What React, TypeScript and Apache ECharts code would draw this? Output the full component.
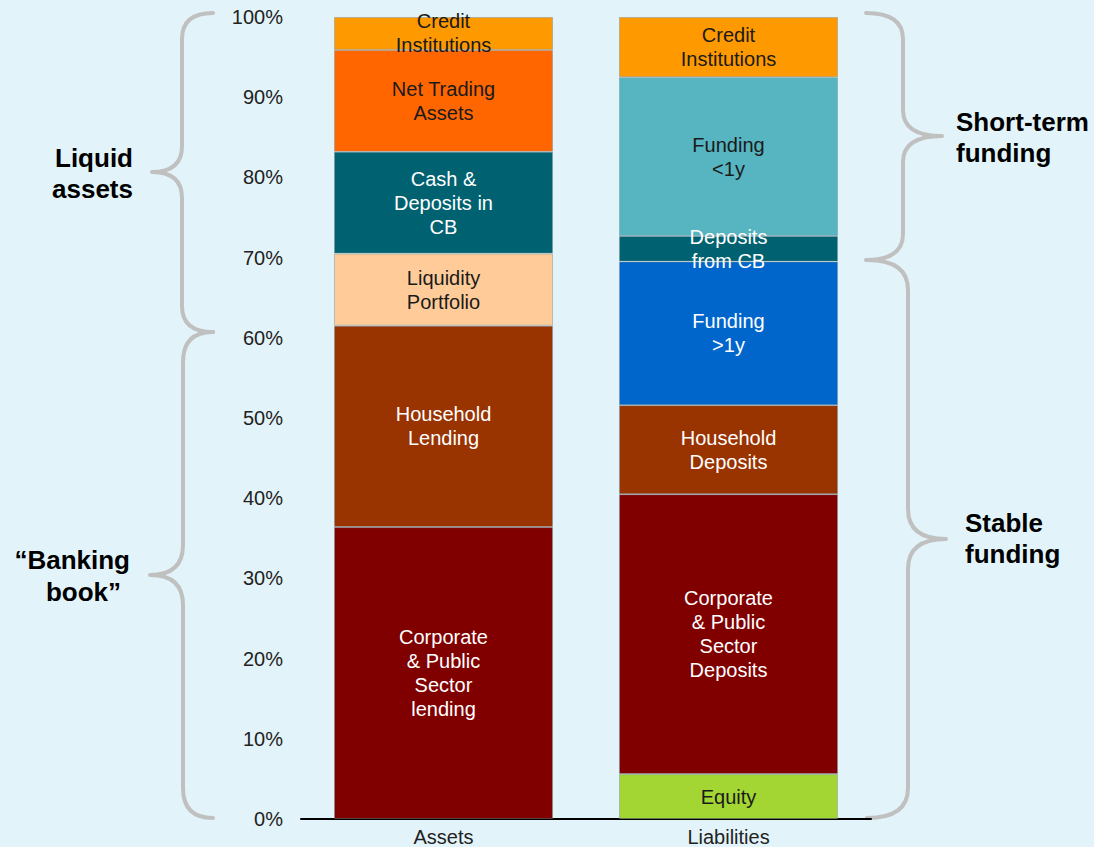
import React, { useEffect, useRef } from "react";
import * as echarts from "echarts";

const categories = ["Assets", "Liabilities"];
const yTicks = [0, 10, 20, 30, 40, 50, 60, 70, 80, 90, 100];

// Assets, bottom to top
const assetNames = [
  "Corporate\n& Public\nSector\nlending",
  "Household\nLending",
  "Liquidity\nPortfolio",
  "Cash &\nDeposits in\nCB",
  "Net Trading\nAssets",
  "Credit\nInstitutions",
];
const assetValues = [36.4, 25.1, 9.0, 12.7, 12.7, 4.1];
const assetColors = ["#800000", "#993300", "#FFCC99", "#006270", "#FF6600", "#FF9900"];
const assetTextColors = ["#ffffff", "#ffffff", "#1a1a1a", "#ffffff", "#1a1a1a", "#1a1a1a"];

// Liabilities, bottom to top
const liabilityNames = [
  "Equity",
  "Corporate\n& Public\nSector\nDeposits",
  "Household\nDeposits",
  "Funding\n>1y",
  "Deposits\nfrom CB",
  "Funding\n<1y",
  "Credit\nInstitutions",
];
const liabilityValues = [5.6, 34.9, 11.1, 17.9, 3.2, 19.8, 7.5];
const liabilityColors = ["#A4D633", "#800000", "#993300", "#0066CC", "#006270", "#57B5C2", "#FF9900"];
const liabilityTextColors = ["#1a1a1a", "#ffffff", "#ffffff", "#ffffff", "#ffffff", "#1a1a1a", "#1a1a1a"];

function bracePath(x0: number, xv: number, xt: number, y0: number, ym: number, y1: number, r: number) {
  return (
    `M${x0} ${y0} Q${xv} ${y0} ${xv} ${y0 + r} L${xv} ${ym - r} Q${xv} ${ym} ${xt} ${ym} ` +
    `M${xt} ${ym} Q${xv} ${ym} ${xv} ${ym + r} L${xv} ${y1 - r} Q${xv} ${y1} ${x0} ${y1}`
  );
}

let registered = false;
function registerBraces() {
  if (registered) return;
  registered = true;
  echarts.graphic.registerShape("braceLU", echarts.graphic.extendPath(bracePath(213, 182, 152, 13, 172, 332, 26), {}) as any);
  echarts.graphic.registerShape("braceLL", echarts.graphic.extendPath(bracePath(213, 183, 150, 332, 575, 818, 30), {}) as any);
  echarts.graphic.registerShape("braceRU", echarts.graphic.extendPath(bracePath(866, 903, 942, 13, 136, 260, 26), {}) as any);
  echarts.graphic.registerShape("braceRL", echarts.graphic.extendPath(bracePath(867, 908, 946, 260, 539, 818, 30), {}) as any);
}

export default function App() {
  const ref = useRef<HTMLDivElement>(null);
  useEffect(() => {
    document.body.style.margin = "0";
    registerBraces();
    const chart = echarts.init(ref.current!, null, { renderer: "svg" });
    const labelFont = { fontFamily: "Liberation Sans, Arial, sans-serif", fontSize: 20, lineHeight: 24 };
    const series: any[] = [];
    assetNames.forEach((n, i) => {
      series.push({
        name: n,
        type: "bar",
        stack: "total",
        barWidth: 219,
        data: [assetValues[i], null],
        itemStyle: { color: assetColors[i], borderColor: "rgba(120,140,150,0.45)", borderWidth: 1 },
        label: { show: true, position: "inside", formatter: n, color: assetTextColors[i], ...labelFont },
      });
    });
    liabilityNames.forEach((n, i) => {
      series.push({
        name: n,
        type: "bar",
        stack: "total",
        barWidth: 219,
        data: [null, liabilityValues[i]],
        itemStyle: { color: liabilityColors[i], borderColor: "rgba(120,140,150,0.45)", borderWidth: 1 },
        label: { show: true, position: "inside", formatter: n, color: liabilityTextColors[i], ...labelFont },
      });
    });
    const braceStyle = { stroke: "#C0C0C0", lineWidth: 4, fill: null, lineCap: "round" };
    const bold = "bold 26px 'Liberation Sans', Arial, sans-serif";
    chart.setOption({
      animation: false,
      backgroundColor: "#E2F4F9",
      grid: { left: 301, right: 223, top: 17, bottom: 27, containLabel: false },
      xAxis: {
        type: "category",
        data: categories,
        axisLine: { show: true, lineStyle: { color: "#000", width: 2 } },
        axisTick: { show: false },
        axisLabel: { color: "#222", fontSize: 20, fontFamily: "Liberation Sans, Arial, sans-serif", margin: 8 },
      },
      yAxis: {
        type: "value",
        min: yTicks[0],
        max: yTicks[yTicks.length - 1],
        interval: 10,
        axisLine: { show: false },
        axisTick: { show: false },
        splitLine: { show: false },
        axisLabel: {
          formatter: "{value}%",
          color: "#222",
          fontSize: 20,
          fontFamily: "Liberation Sans, Arial, sans-serif",
          margin: 18,
        },
      },
      series,
      graphic: [
        { type: "braceLU", style: braceStyle, silent: true },
        { type: "braceLL", style: braceStyle, silent: true },
        { type: "braceRU", style: braceStyle, silent: true },
        { type: "braceRL", style: braceStyle, silent: true },
        { type: "text", style: { text: "Liquid\nassets", x: 133, y: 173, align: "right", verticalAlign: "middle", font: bold, lineHeight: 31, fill: "#000" } },
        { type: "text", style: { text: "“Banking", x: 130, y: 560, align: "right", verticalAlign: "middle", font: bold, fill: "#000" } },
        { type: "text", style: { text: "book”", x: 121, y: 592, align: "right", verticalAlign: "middle", font: bold, fill: "#000" } },
        { type: "text", style: { text: "Short-term\nfunding", x: 956, y: 137, align: "left", verticalAlign: "middle", font: bold, lineHeight: 31, fill: "#000" } },
        { type: "text", style: { text: "Stable\nfunding", x: 965, y: 538, align: "left", verticalAlign: "middle", font: bold, lineHeight: 31, fill: "#000" } },
      ],
    });
    return () => chart.dispose();
  }, []);
  return <div ref={ref} style={{ width: 1094, height: 847 }} />;
}
